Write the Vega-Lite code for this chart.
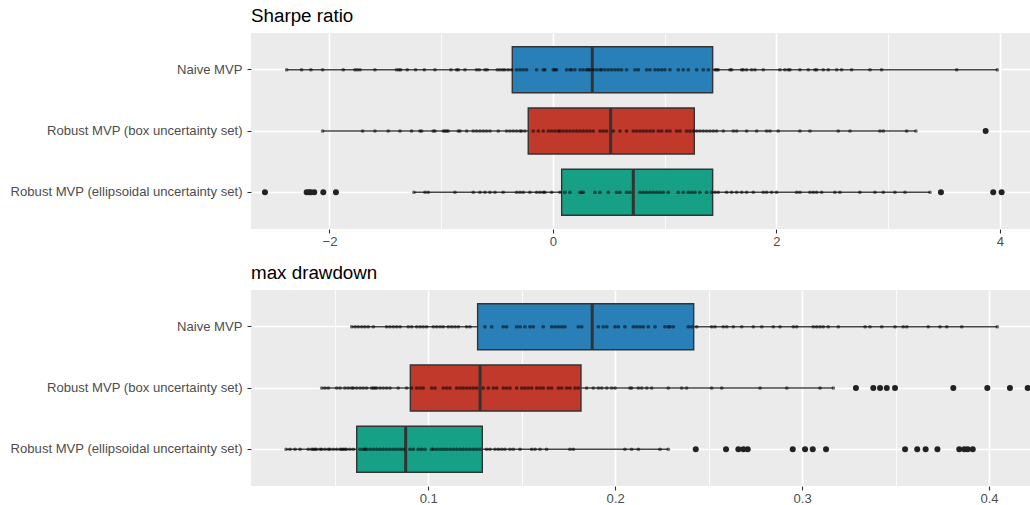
{
  "$schema": "https://vega.github.io/schema/vega-lite/v6.json",
  "padding": {"left": 9, "top": 7, "right": 0, "bottom": 0},
  "background": "#FFFFFF",
  "config": {
    "font": "Liberation Sans",
    "view": {"fill": "#EBEBEB", "stroke": null},
    "axis": {"domain": false, "tickColor": "#333333", "tickSize": 4, "tickWidth": 1.1, "labelColor": "#4D4D4D", "labelFontSize": 13.1, "labelPadding": 5, "gridColor": "#FFFFFF", "title": null},
    "axisX": {"labelPadding": 2},
    "title": {"anchor": "start", "frame": "group", "fontSize": 18.8, "fontWeight": "normal", "color": "#000000", "offset": 7}
  },
  "spacing": 15,
  "datasets": {
    "groups": [
      {"group": "N", "strategy": "Naive MVP"},
      {"group": "B", "strategy": "Robust MVP (box uncertainty set)"},
      {"group": "E", "strategy": "Robust MVP (ellipsoidal uncertainty set)"}
    ],
    "sharpe": [
      {"group": "N", "lower": -2.383, "q1": -0.364, "median": 0.352, "q3": 1.429, "upper": 3.976},
      {"group": "B", "lower": -2.061, "q1": -0.221, "median": 0.516, "q3": 1.265, "upper": 3.248},
      {"group": "E", "lower": -1.244, "q1": 0.078, "median": 0.719, "q3": 1.429, "upper": 3.374},
      {"group":"N","value":-2.383},{"group":"N","value":-2.249},{"group":"N","value":-2.166},{"group":"N","value":-2.061},{"group":"N","value":-1.876},{"group":"N","value":-1.772},{"group":"N","value":-1.751},{"group":"N","value":-1.727},{"group":"N","value":-1.593},{"group":"N","value":-1.399},{"group":"N","value":-1.378},{"group":"N","value":-1.363},{"group":"N","value":-1.304},{"group":"N","value":-1.229},{"group":"N","value":-1.151},{"group":"N","value":-1.056},{"group":"N","value":-0.913},{"group":"N","value":-0.862},{"group":"N","value":-0.847},{"group":"N","value":-0.787},{"group":"N","value":-0.683},{"group":"N","value":-0.659},{"group":"N","value":-0.608},{"group":"N","value":-0.588},{"group":"N","value":-0.498},{"group":"N","value":-0.474},{"group":"N","value":-0.45},{"group":"N","value":-0.43},{"group":"N","value":-0.4},{"group":"N","value":-0.37},{"group":"N","value":-0.325},{"group":"N","value":-0.295},{"group":"N","value":-0.266},{"group":"N","value":-0.236},{"group":"N","value":-0.146},{"group":"N","value":-0.087},{"group":"N","value":-0.072},{"group":"N","value":0.003},{"group":"N","value":0.018},{"group":"N","value":0.033},{"group":"N","value":0.122},{"group":"N","value":0.152},{"group":"N","value":0.167},{"group":"N","value":0.197},{"group":"N","value":0.242},{"group":"N","value":0.271},{"group":"N","value":0.301},{"group":"N","value":0.316},{"group":"N","value":0.331},{"group":"N","value":0.361},{"group":"N","value":0.391},{"group":"N","value":0.421},{"group":"N","value":0.436},{"group":"N","value":0.465},{"group":"N","value":0.495},{"group":"N","value":0.525},{"group":"N","value":0.555},{"group":"N","value":0.584},{"group":"N","value":0.614},{"group":"N","value":0.659},{"group":"N","value":0.734},{"group":"N","value":0.763},{"group":"N","value":0.838},{"group":"N","value":0.868},{"group":"N","value":0.913},{"group":"N","value":0.943},{"group":"N","value":0.973},{"group":"N","value":1.002},{"group":"N","value":1.047},{"group":"N","value":1.121},{"group":"N","value":1.166},{"group":"N","value":1.211},{"group":"N","value":1.286},{"group":"N","value":1.345},{"group":"N","value":1.39},{"group":"N","value":1.45},{"group":"N","value":1.465},{"group":"N","value":1.479},{"group":"N","value":1.584},{"group":"N","value":1.599},{"group":"N","value":1.689},{"group":"N","value":1.703},{"group":"N","value":1.733},{"group":"N","value":1.778},{"group":"N","value":1.808},{"group":"N","value":1.882},{"group":"N","value":2.031},{"group":"N","value":2.076},{"group":"N","value":2.106},{"group":"N","value":2.121},{"group":"N","value":2.21},{"group":"N","value":2.285},{"group":"N","value":2.345},{"group":"N","value":2.36},{"group":"N","value":2.419},{"group":"N","value":2.464},{"group":"N","value":2.539},{"group":"N","value":2.583},{"group":"N","value":2.673},{"group":"N","value":2.837},{"group":"N","value":2.941},{"group":"N","value":3.613},{"group":"N","value":3.976},
      {"group":"B","value":-2.061},{"group":"B","value":-1.703},{"group":"B","value":-1.593},{"group":"B","value":-1.474},{"group":"B","value":-1.369},{"group":"B","value":-1.265},{"group":"B","value":-1.19},{"group":"B","value":-1.175},{"group":"B","value":-1.071},{"group":"B","value":-1.056},{"group":"B","value":-0.981},{"group":"B","value":-0.966},{"group":"B","value":-0.951},{"group":"B","value":-0.937},{"group":"B","value":-0.847},{"group":"B","value":-0.832},{"group":"B","value":-0.772},{"group":"B","value":-0.713},{"group":"B","value":-0.683},{"group":"B","value":-0.653},{"group":"B","value":-0.623},{"group":"B","value":-0.594},{"group":"B","value":-0.564},{"group":"B","value":-0.489},{"group":"B","value":-0.415},{"group":"B","value":-0.385},{"group":"B","value":-0.355},{"group":"B","value":-0.325},{"group":"B","value":-0.295},{"group":"B","value":-0.28},{"group":"B","value":-0.251},{"group":"B","value":-0.176},{"group":"B","value":-0.131},{"group":"B","value":-0.087},{"group":"B","value":-0.042},{"group":"B","value":-0.012},{"group":"B","value":0.018},{"group":"B","value":0.048},{"group":"B","value":0.063},{"group":"B","value":0.092},{"group":"B","value":0.122},{"group":"B","value":0.152},{"group":"B","value":0.182},{"group":"B","value":0.212},{"group":"B","value":0.242},{"group":"B","value":0.271},{"group":"B","value":0.301},{"group":"B","value":0.331},{"group":"B","value":0.361},{"group":"B","value":0.421},{"group":"B","value":0.45},{"group":"B","value":0.48},{"group":"B","value":0.54},{"group":"B","value":0.6},{"group":"B","value":0.659},{"group":"B","value":0.719},{"group":"B","value":0.749},{"group":"B","value":0.779},{"group":"B","value":0.808},{"group":"B","value":0.838},{"group":"B","value":0.868},{"group":"B","value":0.898},{"group":"B","value":0.943},{"group":"B","value":0.973},{"group":"B","value":1.017},{"group":"B","value":1.047},{"group":"B","value":1.107},{"group":"B","value":1.137},{"group":"B","value":1.196},{"group":"B","value":1.226},{"group":"B","value":1.256},{"group":"B","value":1.286},{"group":"B","value":1.315},{"group":"B","value":1.345},{"group":"B","value":1.375},{"group":"B","value":1.405},{"group":"B","value":1.435},{"group":"B","value":1.465},{"group":"B","value":1.524},{"group":"B","value":1.614},{"group":"B","value":1.644},{"group":"B","value":1.733},{"group":"B","value":1.823},{"group":"B","value":1.912},{"group":"B","value":1.942},{"group":"B","value":2.016},{"group":"B","value":2.21},{"group":"B","value":2.3},{"group":"B","value":2.553},{"group":"B","value":2.658},{"group":"B","value":2.926},{"group":"B","value":2.956},{"group":"B","value":3.165},{"group":"B","value":3.248},
      {"group":"E","value":-1.244},{"group":"E","value":-1.145},{"group":"E","value":-1.116},{"group":"E","value":-0.877},{"group":"E","value":-0.713},{"group":"E","value":-0.653},{"group":"E","value":-0.608},{"group":"E","value":-0.564},{"group":"E","value":-0.519},{"group":"E","value":-0.445},{"group":"E","value":-0.325},{"group":"E","value":-0.295},{"group":"E","value":-0.266},{"group":"E","value":-0.206},{"group":"E","value":-0.146},{"group":"E","value":-0.116},{"group":"E","value":-0.087},{"group":"E","value":-0.072},{"group":"E","value":-0.012},{"group":"E","value":0.063},{"group":"E","value":0.107},{"group":"E","value":0.152},{"group":"E","value":0.242},{"group":"E","value":0.257},{"group":"E","value":0.271},{"group":"E","value":0.376},{"group":"E","value":0.421},{"group":"E","value":0.495},{"group":"E","value":0.57},{"group":"E","value":0.6},{"group":"E","value":0.659},{"group":"E","value":0.689},{"group":"E","value":0.779},{"group":"E","value":0.808},{"group":"E","value":0.838},{"group":"E","value":0.868},{"group":"E","value":0.898},{"group":"E","value":0.928},{"group":"E","value":0.957},{"group":"E","value":0.987},{"group":"E","value":1.032},{"group":"E","value":1.121},{"group":"E","value":1.166},{"group":"E","value":1.211},{"group":"E","value":1.241},{"group":"E","value":1.271},{"group":"E","value":1.315},{"group":"E","value":1.375},{"group":"E","value":1.42},{"group":"E","value":1.45},{"group":"E","value":1.479},{"group":"E","value":1.554},{"group":"E","value":1.599},{"group":"E","value":1.644},{"group":"E","value":1.689},{"group":"E","value":1.733},{"group":"E","value":1.793},{"group":"E","value":1.882},{"group":"E","value":1.912},{"group":"E","value":1.957},{"group":"E","value":2.001},{"group":"E","value":2.181},{"group":"E","value":2.21},{"group":"E","value":2.3},{"group":"E","value":2.33},{"group":"E","value":2.36},{"group":"E","value":2.404},{"group":"E","value":2.523},{"group":"E","value":2.568},{"group":"E","value":2.747},{"group":"E","value":2.881},{"group":"E","value":2.956},{"group":"E","value":3.06},{"group":"E","value":3.15},{"group":"E","value":3.374},
      {"group":"B","outlier":3.872},
      {"group":"E","outlier":-2.577},{"group":"E","outlier":-2.204},{"group":"E","outlier":-2.183},{"group":"E","outlier":-2.166},{"group":"E","outlier":-2.136},{"group":"E","outlier":-2.055},{"group":"E","outlier":-1.942},{"group":"E","outlier":3.472},{"group":"E","outlier":3.94},{"group":"E","outlier":4.015}
    ],
    "drawdown": [
      {"group": "N", "lower": 0.059, "q1": 0.1264, "median": 0.1877, "q3": 0.242, "upper": 0.4044},
      {"group": "B", "lower": 0.043, "q1": 0.0904, "median": 0.1277, "q3": 0.1817, "upper": 0.3167},
      {"group": "E", "lower": 0.0239, "q1": 0.0617, "median": 0.0879, "q3": 0.1289, "upper": 0.2284},
      {"group":"N","value":0.059},{"group":"N","value":0.0608},{"group":"N","value":0.0625},{"group":"N","value":0.0644},{"group":"N","value":0.0661},{"group":"N","value":0.0679},{"group":"N","value":0.0706},{"group":"N","value":0.0777},{"group":"N","value":0.0795},{"group":"N","value":0.0813},{"group":"N","value":0.0831},{"group":"N","value":0.0849},{"group":"N","value":0.0893},{"group":"N","value":0.0911},{"group":"N","value":0.0938},{"group":"N","value":0.0956},{"group":"N","value":0.0973},{"group":"N","value":0.0991},{"group":"N","value":0.1027},{"group":"N","value":0.1045},{"group":"N","value":0.1063},{"group":"N","value":0.108},{"group":"N","value":0.1107},{"group":"N","value":0.1125},{"group":"N","value":0.1143},{"group":"N","value":0.1161},{"group":"N","value":0.1205},{"group":"N","value":0.1223},{"group":"N","value":0.1303},{"group":"N","value":0.1339},{"group":"N","value":0.1401},{"group":"N","value":0.1419},{"group":"N","value":0.1473},{"group":"N","value":0.1491},{"group":"N","value":0.1517},{"group":"N","value":0.1544},{"group":"N","value":0.1562},{"group":"N","value":0.1615},{"group":"N","value":0.166},{"group":"N","value":0.1678},{"group":"N","value":0.1696},{"group":"N","value":0.1714},{"group":"N","value":0.1731},{"group":"N","value":0.1803},{"group":"N","value":0.1821},{"group":"N","value":0.191},{"group":"N","value":0.1936},{"group":"N","value":0.1955},{"group":"N","value":0.1999},{"group":"N","value":0.2017},{"group":"N","value":0.2052},{"group":"N","value":0.2097},{"group":"N","value":0.2115},{"group":"N","value":0.2133},{"group":"N","value":0.215},{"group":"N","value":0.2177},{"group":"N","value":0.2213},{"group":"N","value":0.2266},{"group":"N","value":0.2284},{"group":"N","value":0.2293},{"group":"N","value":0.2311},{"group":"N","value":0.2391},{"group":"N","value":0.2409},{"group":"N","value":0.2436},{"group":"N","value":0.2516},{"group":"N","value":0.2534},{"group":"N","value":0.2578},{"group":"N","value":0.2597},{"group":"N","value":0.2632},{"group":"N","value":0.2677},{"group":"N","value":0.2739},{"group":"N","value":0.2784},{"group":"N","value":0.2846},{"group":"N","value":0.2882},{"group":"N","value":0.2953},{"group":"N","value":0.2971},{"group":"N","value":0.306},{"group":"N","value":0.3078},{"group":"N","value":0.3096},{"group":"N","value":0.3113},{"group":"N","value":0.314},{"group":"N","value":0.3194},{"group":"N","value":0.3337},{"group":"N","value":0.3363},{"group":"N","value":0.3426},{"group":"N","value":0.3497},{"group":"N","value":0.3541},{"group":"N","value":0.356},{"group":"N","value":0.3675},{"group":"N","value":0.3738},{"group":"N","value":0.3774},{"group":"N","value":0.3854},{"group":"N","value":0.4044},
      {"group":"B","value":0.043},{"group":"B","value":0.0447},{"group":"B","value":0.0465},{"group":"B","value":0.051},{"group":"B","value":0.0528},{"group":"B","value":0.0554},{"group":"B","value":0.0572},{"group":"B","value":0.059},{"group":"B","value":0.0599},{"group":"B","value":0.0617},{"group":"B","value":0.0635},{"group":"B","value":0.0652},{"group":"B","value":0.067},{"group":"B","value":0.0697},{"group":"B","value":0.0706},{"group":"B","value":0.0715},{"group":"B","value":0.0724},{"group":"B","value":0.0742},{"group":"B","value":0.0759},{"group":"B","value":0.0777},{"group":"B","value":0.0795},{"group":"B","value":0.0839},{"group":"B","value":0.0884},{"group":"B","value":0.0911},{"group":"B","value":0.0938},{"group":"B","value":0.0956},{"group":"B","value":0.0973},{"group":"B","value":0.1018},{"group":"B","value":0.1036},{"group":"B","value":0.108},{"group":"B","value":0.1098},{"group":"B","value":0.1116},{"group":"B","value":0.1152},{"group":"B","value":0.117},{"group":"B","value":0.1187},{"group":"B","value":0.1205},{"group":"B","value":0.1223},{"group":"B","value":0.1241},{"group":"B","value":0.1259},{"group":"B","value":0.1294},{"group":"B","value":0.1321},{"group":"B","value":0.1348},{"group":"B","value":0.1366},{"group":"B","value":0.1401},{"group":"B","value":0.1419},{"group":"B","value":0.1437},{"group":"B","value":0.1473},{"group":"B","value":0.15},{"group":"B","value":0.1517},{"group":"B","value":0.1535},{"group":"B","value":0.1553},{"group":"B","value":0.158},{"group":"B","value":0.1598},{"group":"B","value":0.1615},{"group":"B","value":0.1642},{"group":"B","value":0.166},{"group":"B","value":0.1696},{"group":"B","value":0.1714},{"group":"B","value":0.174},{"group":"B","value":0.1758},{"group":"B","value":0.1785},{"group":"B","value":0.1803},{"group":"B","value":0.1847},{"group":"B","value":0.1883},{"group":"B","value":0.191},{"group":"B","value":0.1928},{"group":"B","value":0.1955},{"group":"B","value":0.1981},{"group":"B","value":0.1999},{"group":"B","value":0.2079},{"group":"B","value":0.2088},{"group":"B","value":0.2124},{"group":"B","value":0.2142},{"group":"B","value":0.2169},{"group":"B","value":0.2195},{"group":"B","value":0.2284},{"group":"B","value":0.2356},{"group":"B","value":0.2382},{"group":"B","value":0.2516},{"group":"B","value":0.257},{"group":"B","value":0.2775},{"group":"B","value":0.2918},{"group":"B","value":0.3096},{"group":"B","value":0.3167},
      {"group":"E","value":0.0239},{"group":"E","value":0.026},{"group":"E","value":0.0287},{"group":"E","value":0.0314},{"group":"E","value":0.0358},{"group":"E","value":0.0376},{"group":"E","value":0.0385},{"group":"E","value":0.0394},{"group":"E","value":0.0403},{"group":"E","value":0.0421},{"group":"E","value":0.043},{"group":"E","value":0.0447},{"group":"E","value":0.0465},{"group":"E","value":0.0474},{"group":"E","value":0.0492},{"group":"E","value":0.051},{"group":"E","value":0.0528},{"group":"E","value":0.0537},{"group":"E","value":0.0545},{"group":"E","value":0.0554},{"group":"E","value":0.0563},{"group":"E","value":0.0581},{"group":"E","value":0.0599},{"group":"E","value":0.0635},{"group":"E","value":0.0652},{"group":"E","value":0.0661},{"group":"E","value":0.067},{"group":"E","value":0.0688},{"group":"E","value":0.0706},{"group":"E","value":0.0724},{"group":"E","value":0.0742},{"group":"E","value":0.0759},{"group":"E","value":0.0777},{"group":"E","value":0.0795},{"group":"E","value":0.0813},{"group":"E","value":0.0831},{"group":"E","value":0.0849},{"group":"E","value":0.0866},{"group":"E","value":0.0902},{"group":"E","value":0.092},{"group":"E","value":0.0946},{"group":"E","value":0.0964},{"group":"E","value":0.0982},{"group":"E","value":0.1018},{"group":"E","value":0.1027},{"group":"E","value":0.1045},{"group":"E","value":0.1063},{"group":"E","value":0.108},{"group":"E","value":0.1098},{"group":"E","value":0.1116},{"group":"E","value":0.1134},{"group":"E","value":0.1152},{"group":"E","value":0.117},{"group":"E","value":0.1187},{"group":"E","value":0.1205},{"group":"E","value":0.1223},{"group":"E","value":0.1241},{"group":"E","value":0.1259},{"group":"E","value":0.1277},{"group":"E","value":0.1312},{"group":"E","value":0.133},{"group":"E","value":0.1357},{"group":"E","value":0.1375},{"group":"E","value":0.1393},{"group":"E","value":0.141},{"group":"E","value":0.1437},{"group":"E","value":0.1455},{"group":"E","value":0.1491},{"group":"E","value":0.1553},{"group":"E","value":0.1571},{"group":"E","value":0.1598},{"group":"E","value":0.1633},{"group":"E","value":0.1758},{"group":"E","value":0.1776},{"group":"E","value":0.2052},{"group":"E","value":0.2088},{"group":"E","value":0.2124},{"group":"E","value":0.224},{"group":"E","value":0.2284},
      {"group":"B","outlier":0.3288},{"group":"B","outlier":0.3381},{"group":"B","outlier":0.3417},{"group":"B","outlier":0.3453},{"group":"B","outlier":0.3497},{"group":"B","outlier":0.3809},{"group":"B","outlier":0.3991},{"group":"B","outlier":0.4112},{"group":"B","outlier":0.4207},
      {"group":"E","outlier":0.2431},{"group":"E","outlier":0.2593},{"group":"E","outlier":0.2659},{"group":"E","outlier":0.2686},{"group":"E","outlier":0.2709},{"group":"E","outlier":0.295},{"group":"E","outlier":0.3016},{"group":"E","outlier":0.3057},{"group":"E","outlier":0.3128},{"group":"E","outlier":0.3551},{"group":"E","outlier":0.3616},{"group":"E","outlier":0.3661},{"group":"E","outlier":0.3724},{"group":"E","outlier":0.3841},{"group":"E","outlier":0.3868},{"group":"E","outlier":0.3886},{"group":"E","outlier":0.3913}
    ]
  },
  "vconcat": [
    {
      "title": "Sharpe ratio",
      "width": 779,
      "height": 196,
      "data": {"name": "sharpe"},
      "transform": [{"lookup": "group", "from": {"data": {"name": "groups"}, "key": "group", "fields": ["strategy"]}}],
      "encoding": {
        "y": {"field": "strategy", "type": "nominal", "title": null,
              "sort": ["Naive MVP", "Robust MVP (box uncertainty set)", "Robust MVP (ellipsoidal uncertainty set)"],
              "scale": {"paddingInner": 0.25, "paddingOuter": 0.225},
              "axis": {"bandPosition": 0.5, "grid": true, "gridWidth": 1.6, "labelLimit": 400}}
      },
      "layer": [
        {
          "transform": [{"filter": "isValid(datum.q1)"}],
          "mark": {"type": "rule", "color": "#333333", "strokeWidth": 1.5, "opacity": 0.9},
          "encoding": {
            "x": {"field": "lower", "type": "quantitative", "title": null,
                  "scale": {"domain": [-2.702, 4.269], "nice": false, "zero": false},
                  "axis": {"values": [-2, -1, 0, 1, 2, 3, 4], "grid": true, "format": "d",
                           "gridWidth": {"condition": {"test": "datum.value % 2 !== 0", "value": 0.8}, "value": 1.6},
                           "tickOpacity": {"condition": {"test": "datum.value % 2 !== 0", "value": 0}, "value": 1},
                           "labelExpr": "datum.value % 2 === 0 ? datum.label : ''"}},
            "x2": {"field": "upper"}
          }
        },
        {
          "transform": [{"filter": "isValid(datum.q1)"}],
          "mark": {"type": "bar", "stroke": "#333333", "strokeWidth": 1.4},
          "encoding": {
            "x": {"field": "q1", "type": "quantitative"},
            "x2": {"field": "q3"},
            "color": {"field": "strategy", "type": "nominal", "legend": null,
                      "scale": {"domain": ["Naive MVP", "Robust MVP (box uncertainty set)", "Robust MVP (ellipsoidal uncertainty set)"], "range": ["#2980B9", "#C0392B", "#16A085"]}}
          }
        },
        {
          "transform": [{"filter": "isValid(datum.median)"}],
          "mark": {"type": "tick", "orient": "vertical", "color": "#333333", "thickness": 3, "size": 46, "opacity": 1},
          "encoding": {"x": {"field": "median", "type": "quantitative"}}
        },
        {
          "transform": [{"filter": "isValid(datum.value)"}],
          "mark": {"type": "circle", "color": "#000000", "opacity": 0.55, "size": 14},
          "encoding": {"x": {"field": "value", "type": "quantitative"}}
        },
        {
          "transform": [{"filter": "isValid(datum.outlier)"}],
          "mark": {"type": "circle", "color": "#222222", "opacity": 1, "size": 36},
          "encoding": {"x": {"field": "outlier", "type": "quantitative"}}
        }
      ]
    },
    {
      "title": "max drawdown",
      "width": 779,
      "height": 196,
      "data": {"name": "drawdown"},
      "transform": [{"lookup": "group", "from": {"data": {"name": "groups"}, "key": "group", "fields": ["strategy"]}}],
      "encoding": {
        "y": {"field": "strategy", "type": "nominal", "title": null,
              "sort": ["Naive MVP", "Robust MVP (box uncertainty set)", "Robust MVP (ellipsoidal uncertainty set)"],
              "scale": {"paddingInner": 0.25, "paddingOuter": 0.225},
              "axis": {"bandPosition": 0.5, "grid": true, "gridWidth": 1.6, "labelLimit": 400}}
      },
      "layer": [
        {
          "transform": [{"filter": "isValid(datum.q1)"}],
          "mark": {"type": "rule", "color": "#333333", "strokeWidth": 1.5, "opacity": 0.9},
          "encoding": {
            "x": {"field": "lower", "type": "quantitative", "title": null,
                  "scale": {"domain": [0.00514, 0.42194], "nice": false, "zero": false},
                  "axis": {"values": [0.05, 0.1, 0.15, 0.2, 0.25, 0.3, 0.35, 0.4], "grid": true, "format": ".1f",
                           "gridWidth": {"condition": {"test": "round(datum.value * 100) % 10 !== 0", "value": 0.8}, "value": 1.6},
                           "tickOpacity": {"condition": {"test": "round(datum.value * 100) % 10 !== 0", "value": 0}, "value": 1},
                           "labelExpr": "round(datum.value * 100) % 10 === 0 ? datum.label : ''"}},
            "x2": {"field": "upper"}
          }
        },
        {
          "transform": [{"filter": "isValid(datum.q1)"}],
          "mark": {"type": "bar", "stroke": "#333333", "strokeWidth": 1.4},
          "encoding": {
            "x": {"field": "q1", "type": "quantitative"},
            "x2": {"field": "q3"},
            "color": {"field": "strategy", "type": "nominal", "legend": null,
                      "scale": {"domain": ["Naive MVP", "Robust MVP (box uncertainty set)", "Robust MVP (ellipsoidal uncertainty set)"], "range": ["#2980B9", "#C0392B", "#16A085"]}}
          }
        },
        {
          "transform": [{"filter": "isValid(datum.median)"}],
          "mark": {"type": "tick", "orient": "vertical", "color": "#333333", "thickness": 3, "size": 46, "opacity": 1},
          "encoding": {"x": {"field": "median", "type": "quantitative"}}
        },
        {
          "transform": [{"filter": "isValid(datum.value)"}],
          "mark": {"type": "circle", "color": "#000000", "opacity": 0.55, "size": 14},
          "encoding": {"x": {"field": "value", "type": "quantitative"}}
        },
        {
          "transform": [{"filter": "isValid(datum.outlier)"}],
          "mark": {"type": "circle", "color": "#222222", "opacity": 1, "size": 36},
          "encoding": {"x": {"field": "outlier", "type": "quantitative"}}
        }
      ]
    }
  ]
}
